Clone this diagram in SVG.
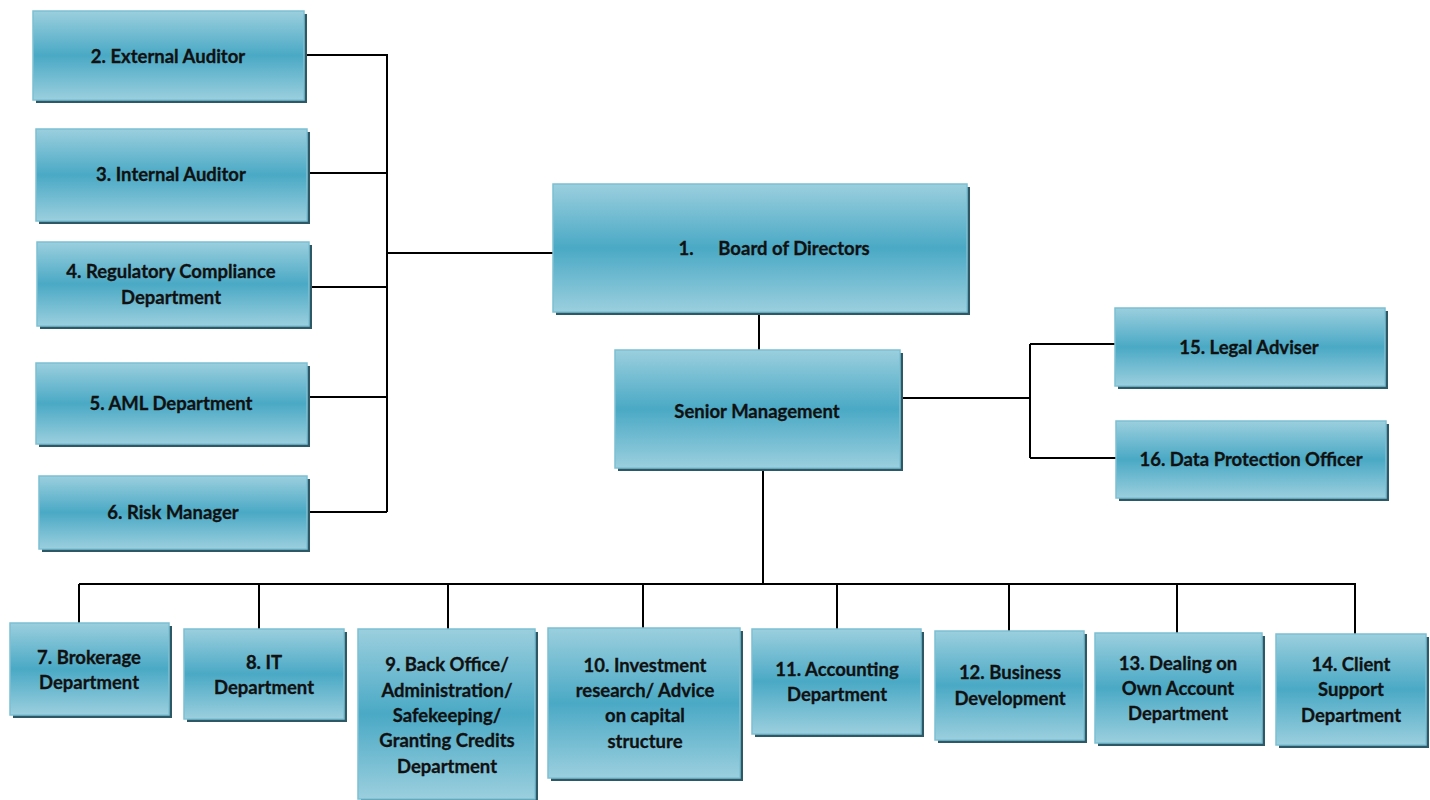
<svg xmlns="http://www.w3.org/2000/svg" width="1430" height="800" viewBox="0 0 1430 800">
<defs>
<linearGradient id="g" x1="0" y1="0" x2="0" y2="1">
<stop offset="0" stop-color="#9bcfde"/>
<stop offset="0.5" stop-color="#4aa9c5"/>
<stop offset="1" stop-color="#9bcfde"/>
</linearGradient>
</defs>
<style>
.sh{fill:#2d5866}
.bx{fill:url(#g);stroke:#7cc0d4;stroke-width:1.5}
.t{font-family:Lato,"Liberation Sans",sans-serif;font-weight:bold;font-size:18.5px;fill:#111;text-anchor:middle;dominant-baseline:central;stroke:#111;stroke-width:0.3}
.c{fill:none;stroke:#000;stroke-width:2}
</style>
<rect width="1430" height="800" fill="#fff"/>
<g id="connectors">
<path class="c" d="M304 55H387V512M307 173H387M309 287H387M307 397H387M307 512H387M387 253H553"/>
<path class="c" d="M759 312V350"/>
<path class="c" d="M900 398H1030M1030 344V458M1030 344H1115M1030 458H1116"/>
<path class="c" d="M763 468V584M79 584H1355V634M79 584V623M259 584V629M448 584V629M643 584V628M837 584V629M1009 584V631M1177 584V633"/>
</g>
<g id="n2"><rect class="sh" x="36" y="14" width="271" height="89"/><rect class="bx" x="33" y="11" width="271" height="89"/><text class="t" x="168" y="56">2. External Auditor</text></g>
<g id="n3"><rect class="sh" x="39" y="132" width="271" height="92"/><rect class="bx" x="36" y="129" width="271" height="92"/><text class="t" x="171" y="174">3. Internal Auditor</text></g>
<g id="n4"><rect class="sh" x="40" y="245" width="272" height="84"/><rect class="bx" x="37" y="242" width="272" height="84"/><text class="t" x="171" y="271">4. Regulatory Compliance</text><text class="t" x="171" y="297">Department</text></g>
<g id="n5"><rect class="sh" x="39" y="366" width="271" height="81"/><rect class="bx" x="36" y="363" width="271" height="81"/><text class="t" x="171" y="403">5. AML Department</text></g>
<g id="n6"><rect class="sh" x="42" y="479" width="268" height="73"/><rect class="bx" x="39" y="476" width="268" height="73"/><text class="t" x="173" y="512">6. Risk Manager</text></g>
<g id="n1"><rect class="sh" x="556" y="187" width="414" height="128"/><rect class="bx" x="553" y="184" width="414" height="128"/><text class="t" x="686" y="248">1.</text><text class="t" x="794" y="248">Board of Directors</text></g>
<g id="sm"><rect class="sh" x="618" y="353" width="285" height="118"/><rect class="bx" x="615" y="350" width="285" height="118"/><text class="t" x="757" y="411">Senior Management</text></g>
<g id="n15"><rect class="sh" x="1118" y="311" width="270" height="78"/><rect class="bx" x="1115" y="308" width="270" height="78"/><text class="t" x="1249" y="347">15. Legal Adviser</text></g>
<g id="n16"><rect class="sh" x="1119" y="424" width="270" height="77"/><rect class="bx" x="1116" y="421" width="270" height="77"/><text class="t" x="1251" y="459">16. Data Protection Officer</text></g>
<g id="n7"><rect class="sh" x="13" y="626" width="159" height="92"/><rect class="bx" x="10" y="623" width="159" height="92"/><text class="t" x="89" y="657">7. Brokerage</text><text class="t" x="89" y="682">Department</text></g>
<g id="n8"><rect class="sh" x="187" y="632" width="160" height="90"/><rect class="bx" x="184" y="629" width="160" height="90"/><text class="t" x="264" y="662">8. IT</text><text class="t" x="264" y="687">Department</text></g>
<g id="n9"><rect class="sh" x="361" y="632" width="177" height="170"/><rect class="bx" x="358" y="629" width="177" height="170"/><text class="t" x="447" y="664">9. Back Office/</text><text class="t" x="447" y="690">Administration/</text><text class="t" x="447" y="715">Safekeeping/</text><text class="t" x="447" y="740">Granting Credits</text><text class="t" x="447" y="766">Department</text></g>
<g id="n10"><rect class="sh" x="551" y="631" width="192" height="150"/><rect class="bx" x="548" y="628" width="192" height="150"/><text class="t" x="645" y="665">10. Investment</text><text class="t" x="645" y="690">research/ Advice</text><text class="t" x="645" y="715">on capital</text><text class="t" x="645" y="741">structure</text></g>
<g id="n11"><rect class="sh" x="755" y="632" width="169" height="105"/><rect class="bx" x="752" y="629" width="169" height="105"/><text class="t" x="837" y="669">11.  Accounting</text><text class="t" x="837" y="694">Department</text></g>
<g id="n12"><rect class="sh" x="938" y="634" width="149" height="109"/><rect class="bx" x="935" y="631" width="149" height="109"/><text class="t" x="1010" y="672">12. Business</text><text class="t" x="1010" y="698">Development</text></g>
<g id="n13"><rect class="sh" x="1098" y="636" width="167" height="110"/><rect class="bx" x="1095" y="633" width="167" height="110"/><text class="t" x="1178" y="663">13. Dealing on</text><text class="t" x="1178" y="688">Own Account</text><text class="t" x="1178" y="713">Department</text></g>
<g id="n14"><rect class="sh" x="1279" y="637" width="150" height="111"/><rect class="bx" x="1276" y="634" width="150" height="111"/><text class="t" x="1351" y="664">14. Client</text><text class="t" x="1351" y="689">Support</text><text class="t" x="1351" y="715">Department</text></g>
</svg>
